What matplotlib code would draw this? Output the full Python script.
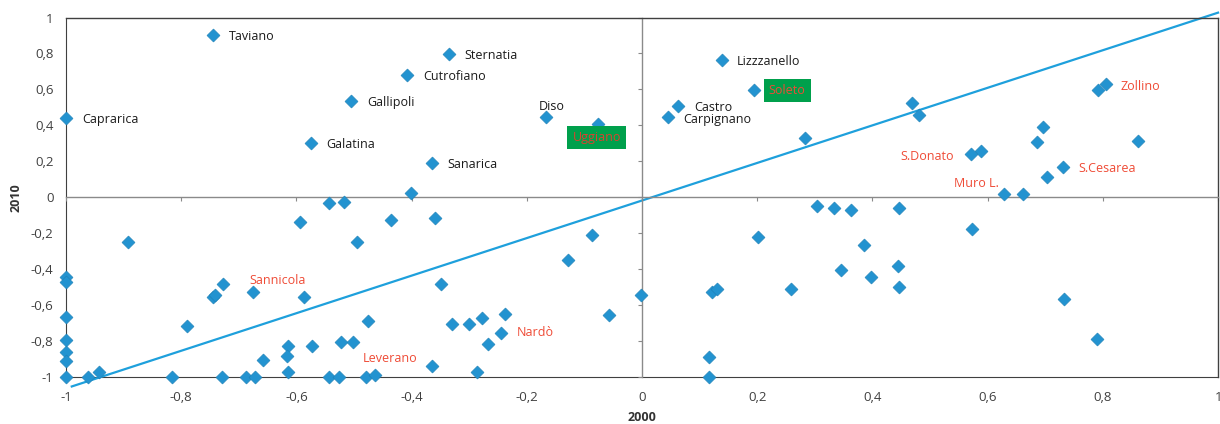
import numpy as np
from matplotlib import pyplot as plt

# labelled towns (x = 2000 index, y = 2010 index)
towns = ["Caprarica", "Taviano", "Sternatia", "Cutrofiano", "Gallipoli", "Galatina",
         "Sanarica", "Diso", "Uggiano", "Lizzzanello", "Soleto", "Castro", "Carpignano",
         "S.Donato", "S.Cesarea", "Muro L.", "Zollino", "Sannicola", "Leverano", "Nardò"]
town_x = [-1.0, -0.745, -0.335, -0.408, -0.505, -0.575,
          -0.365, -0.167, -0.077, 0.139, 0.194, 0.062, 0.045,
          0.571, 0.731, 0.628, 0.806, -0.675, -0.464, -0.245]
town_y = [0.44, 0.90, 0.795, 0.679, 0.535, 0.30,
          0.188, 0.446, 0.405, 0.762, 0.599, 0.508, 0.446,
          0.238, 0.171, 0.018, 0.628, -0.528, -0.99, -0.755]

# the other municipalities
other_x = [-0.401, 0.283, 0.469, 0.481, 0.588, 0.685, 0.696, 0.703, 0.661, 0.792, 0.861,
           0.303, 0.333, 0.362, 0.446, 0.573, 0.385, 0.345, 0.398, 0.444, 0.446, 0.733,
           0.79, 0.201, 0.1215, 0.130, 0.259, 0.116, 0.116, -0.002,
           -0.36, -0.087, -0.128, -0.349, -0.057, -0.33, -0.30, -0.278, -0.238, -0.267,
           -0.365, -0.287, -0.893, -0.593, -0.543, -0.518, -0.494, -0.436,
           -1.0, -1.0, -1.0, -1.0, -1.0, -1.0, -1.0, -0.962, -0.943, -0.816, -0.79,
           -0.745, -0.741, -0.728, -0.73, -0.688, -0.672, -0.658, -0.614, -0.616, -0.614,
           -0.587, -0.573, -0.543, -0.526, -0.523, -0.502, -0.476, -0.48]
other_y = [0.026, 0.328, 0.525, 0.456, 0.257, 0.307, 0.391, 0.113, 0.018, 0.596, 0.313,
           -0.05, -0.061, -0.072, -0.061, -0.178, -0.267, -0.406, -0.445, -0.384, -0.50, -0.567,
           -0.79, -0.22, -0.528, -0.512, -0.508, -0.89, -1.0, -0.545,
           -0.113, -0.21, -0.35, -0.484, -0.656, -0.706, -0.706, -0.67, -0.65, -0.818,
           -0.94, -0.974, -0.25, -0.138, -0.034, -0.027, -0.25, -0.127,
           -0.445, -0.473, -0.666, -0.796, -0.86, -0.91, -1.0, -1.0, -0.97, -1.0, -0.716,
           -0.555, -0.545, -0.48, -1.0, -1.0, -1.0, -0.907, -0.83, -0.884, -0.974,
           -0.555, -0.83, -1.0, -1.0, -0.806, -0.806, -0.69, -1.0]

# trend line
trend_slope = 1.045
trend_icpt = -0.018
trend_x = [-0.99, 1.0]

ticks = [-1, -0.8, -0.6, -0.4, -0.2, 0, 0.2, 0.4, 0.6, 0.8, 1]
tick_labels = ["-1", "-0,8", "-0,6", "-0,4", "-0,2", "0", "0,2", "0,4", "0,6", "0,8", "1"]

# label styling: (dx, dy) in pixels, ha, color, boxed
RED = "#ef4b36"
BLACK = "#1a1a1a"
label_style = {
    "Caprarica": ((16, -1), "left", BLACK, False),
    "Taviano": ((16, -1), "left", BLACK, False),
    "Sternatia": ((15, -1), "left", BLACK, False),
    "Cutrofiano": ((16, -1), "left", BLACK, False),
    "Gallipoli": ((16, -1), "left", BLACK, False),
    "Galatina": ((15, -1), "left", BLACK, False),
    "Sanarica": ((16, -1), "left", BLACK, False),
    "Diso": ((6, 11), "center", BLACK, False),
    "Uggiano": ((-1, -13), "center", "#d9432f", True),
    "Lizzzanello": ((15, -1), "left", BLACK, False),
    "Soleto": ((15, -1), "left", RED, True),
    "Castro": ((17, -2), "left", BLACK, False),
    "Carpignano": ((15, -2), "left", BLACK, False),
    "S.Donato": ((-17, -2), "right", RED, False),
    "S.Cesarea": ((15, -2), "left", RED, False),
    "Muro L.": ((-5, 11), "right", RED, False),
    "Zollino": ((14, -2), "left", RED, False),
    "Sannicola": ((-4, 12), "left", RED, False),
    "Leverano": ((-12, 17), "left", RED, False),
    "Nardò": ((16, 0), "left", RED, False),
}

plt.rcParams['font.family'] = ['Open Sans', 'DejaVu Sans']
fig = plt.figure(figsize=(12.2, 4.24), dpi=100)
ax = fig.add_axes([0.0541, 0.1108, 0.9443, 0.8479])

blue = "#2393d0"
tx = np.array(trend_x)
ax.plot(tx, trend_slope * tx + trend_icpt, color="#1ea0dc", lw=1.6, clip_on=False, zorder=2)
ax.scatter(other_x, other_y, marker="D", s=44, color=blue, edgecolor="#1c7fb5",
           linewidth=0.4, clip_on=False, zorder=3)
ax.scatter(town_x, town_y, marker="D", s=44, color=blue, edgecolor="#1c7fb5",
           linewidth=0.4, clip_on=False, zorder=3)

for name, x, y in zip(towns, town_x, town_y):
    (dx, dy), ha, col, boxed = label_style[name]
    bbox = dict(boxstyle="square,pad=0.4", fc="#00a04c", ec="none") if boxed else None
    ax.annotate(name, (x, y), xytext=(dx, dy), textcoords="offset pixels",
                ha=ha, va="center", color=col, fontsize=9, bbox=bbox, zorder=4)

ax.set_xlim(-1, 1)
ax.set_ylim(-1, 1)

# centre axes with small ticks
ax.spines['left'].set_position(('data', 0))
ax.spines['bottom'].set_position(('data', 0))
for s in ['left', 'bottom']:
    ax.spines[s].set_color("#8a8a8a")
    ax.spines[s].set_linewidth(1.0)
for s in ['top', 'right']:
    ax.spines[s].set_color("#404040")
    ax.spines[s].set_linewidth(1.0)
ax.set_xticks(ticks)
ax.set_yticks(ticks)
ax.tick_params(direction="out", length=3, width=0.8, color="#8a8a8a",
               labelleft=False, labelbottom=False)

# labels on the outer frame
secx = ax.secondary_xaxis('bottom')
secx.set_xticks(ticks, tick_labels)
secx.tick_params(length=0, pad=10, labelsize=9.5, labelcolor="#404040")
secx.spines['bottom'].set_color("#404040")
secx.set_xlabel("2000", fontweight="bold", fontsize=9, color="#333333", labelpad=5)

secy = ax.secondary_yaxis('left')
secy.set_yticks(ticks, tick_labels)
secy.tick_params(length=0, pad=9, labelsize=9.5, labelcolor="#404040")
secy.spines['left'].set_color("#404040")
secy.set_ylabel("2010", fontweight="bold", fontsize=9, color="#333333", labelpad=6)

fig.savefig("out.png", dpi=100)
